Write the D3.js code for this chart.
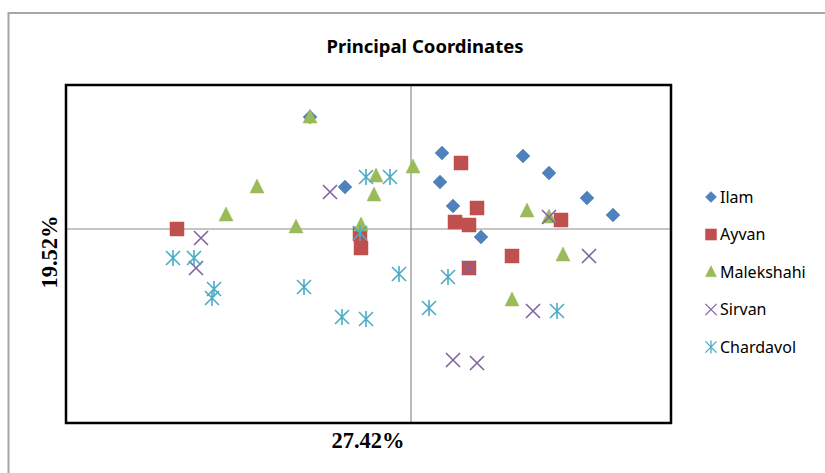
<!DOCTYPE html>
<html>
<head>
<meta charset="utf-8">
<script src="https://cdn.jsdelivr.net/npm/d3@7"></script>
<style>
  html, body { margin: 0; padding: 0; background: #fff; }
  svg { display: block; }
</style>
</head>
<body>
<svg id="chart" width="825" height="473"></svg>
<script>
// principal coordinate scores per population, [axis1, axis2]
const ilam = [[-0.101, 0.112], [-0.066, 0.042], [0.031, 0.076], [0.029, 0.047], [0.042, 0.023],
  [0.070, -0.008], [0.112, 0.073], [0.138, 0.056], [0.176, 0.031], [0.202, 0.014]];
const ayvan = [[-0.234, 0.000], [-0.051, -0.005], [-0.050, -0.019], [0.050, 0.066], [0.044, 0.007],
  [0.058, 0.004], [0.066, 0.021], [0.150, 0.009], [0.058, -0.039], [0.101, -0.027]];
const malekshahi = [[-0.101, 0.112], [-0.185, 0.014], [-0.154, 0.042], [-0.115, 0.002], [-0.050, 0.004],
  [-0.035, 0.053], [-0.037, 0.034], [0.002, 0.062], [0.116, 0.018], [0.138, 0.012], [0.152, -0.026], [0.101, -0.071]];
const sirvan = [[-0.210, -0.009], [-0.215, -0.039], [-0.081, 0.037], [0.138, 0.012], [0.178, -0.027],
  [0.058, -0.039], [0.122, -0.082], [0.042, -0.131], [0.066, -0.134]];
const chardavol = [[-0.238, -0.029], [-0.217, -0.029], [-0.197, -0.060], [-0.199, -0.069], [-0.107, -0.058],
  [-0.069, -0.088], [-0.045, -0.090], [-0.012, -0.045], [-0.051, -0.004], [-0.045, 0.052], [-0.021, 0.052],
  [0.037, -0.048], [0.018, -0.079], [0.146, -0.082]];

const seriesNames = ["Ilam", "Ayvan", "Malekshahi", "Sirvan", "Chardavol"];
const xLabel = "27.42%";
const yLabel = "19.52%";
const title = "Principal Coordinates";

const xDomain = [-0.345, 0.26];
const yDomain = [-0.194, 0.144];

const series = [
  { name: seriesNames[0], points: ilam, color: "#4F81BD", shape: "diamond" },
  { name: seriesNames[1], points: ayvan, color: "#C0504D", shape: "square" },
  { name: seriesNames[2], points: malekshahi, color: "#9BBB59", shape: "triangle" },
  { name: seriesNames[3], points: sirvan, color: "#8064A2", shape: "x" },
  { name: seriesNames[4], points: chardavol, color: "#4BACC6", shape: "star" },
];

const svg = d3.select("#chart");
const plot = { left: 66, top: 85, right: 671, bottom: 423 };

const x = d3.scaleLinear().domain(xDomain).range([plot.left, plot.right]);
const y = d3.scaleLinear().domain(yDomain).range([plot.bottom, plot.top]);

// outer chart frame (runs off the page on the right and bottom)
svg.append("rect")
  .attr("x", 8.5).attr("y", 13)
  .attr("width", 840).attr("height", 480)
  .attr("fill", "#fff")
  .attr("stroke", "#a6a6a6")
  .attr("stroke-width", 2);

svg.append("text")
  .attr("x", 425).attr("y", 53)
  .attr("text-anchor", "middle")
  .attr("font-family", "'Noto Sans', sans-serif")
  .attr("font-weight", "bold")
  .attr("font-size", 18.5)
  .text(title);

// zero lines
svg.append("line")
  .attr("x1", x(0)).attr("x2", x(0))
  .attr("y1", plot.top).attr("y2", plot.bottom)
  .attr("stroke", "#8c8c8c").attr("stroke-width", 1.2);
svg.append("line")
  .attr("x1", plot.left).attr("x2", plot.right)
  .attr("y1", y(0)).attr("y2", y(0))
  .attr("stroke", "#8c8c8c").attr("stroke-width", 1.2);

function markerPath(shape) {
  const s = 7;
  switch (shape) {
    case "diamond": return `M0,${-s}L${s},0L0,${s}L${-s},0Z`;
    case "square": return `M${-s},${-s}H${s}V${s}H${-s}Z`;
    case "triangle": return `M0,${-s - 1}L${s},${s - 1}L${-s},${s - 1}Z`;
    case "x": return `M${-s},${-s}L${s},${s}M${s},${-s}L${-s},${s}`;
    case "star": return `M${-s},${-s}L${s},${s}M${s},${-s}L${-s},${s}M0,${-s - 1}V${s + 1}`;
  }
}

function drawMarker(sel, d) {
  const filled = d.shape !== "x" && d.shape !== "star";
  sel.append("path")
    .attr("d", markerPath(d.shape))
    .attr("fill", filled ? d.color : "none")
    .attr("stroke", d.color)
    .attr("stroke-width", filled ? 0.5 : 1.6);
}

const marks = svg.append("g");
series.forEach((s) => {
  marks.append("g")
    .selectAll("g")
    .data(s.points)
    .join("g")
    .attr("transform", (p) => `translate(${x(p[0])},${y(p[1])})`)
    .each(function () { drawMarker(d3.select(this), s); });
});

// plot frame
svg.append("rect")
  .attr("x", plot.left).attr("y", plot.top)
  .attr("width", plot.right - plot.left).attr("height", plot.bottom - plot.top)
  .attr("fill", "none")
  .attr("stroke", "#000")
  .attr("stroke-width", 2.5);

svg.append("text")
  .attr("x", 368).attr("y", 448)
  .attr("text-anchor", "middle")
  .attr("font-family", "'Liberation Serif', serif")
  .attr("font-weight", "bold")
  .attr("font-size", 22.5)
  .text(xLabel);

svg.append("text")
  .attr("transform", "translate(57,252) rotate(-90)")
  .attr("text-anchor", "middle")
  .attr("font-family", "'Liberation Serif', serif")
  .attr("font-weight", "bold")
  .attr("font-size", 22.5)
  .text(yLabel);

const legend = svg.append("g")
  .selectAll("g")
  .data(series)
  .join("g")
  .attr("transform", (d, i) => `translate(711,${197 + i * 37.5})`);

legend.each(function (d) {
  const g = d3.select(this);
  g.append("path")
    .attr("d", markerPath(d.shape))
    .attr("transform", "scale(0.8)")
    .attr("fill", d.shape === "x" || d.shape === "star" ? "none" : d.color)
    .attr("stroke", d.color)
    .attr("stroke-width", d.shape === "x" || d.shape === "star" ? 1.6 : 0.5);
  g.append("text")
    .attr("x", 9).attr("y", 5.5)
    .attr("font-family", "'Noto Sans', sans-serif")
    .attr("font-size", 16)
    .attr("fill", "#000")
    .text(d.name);
});
</script>
</body>
</html>
